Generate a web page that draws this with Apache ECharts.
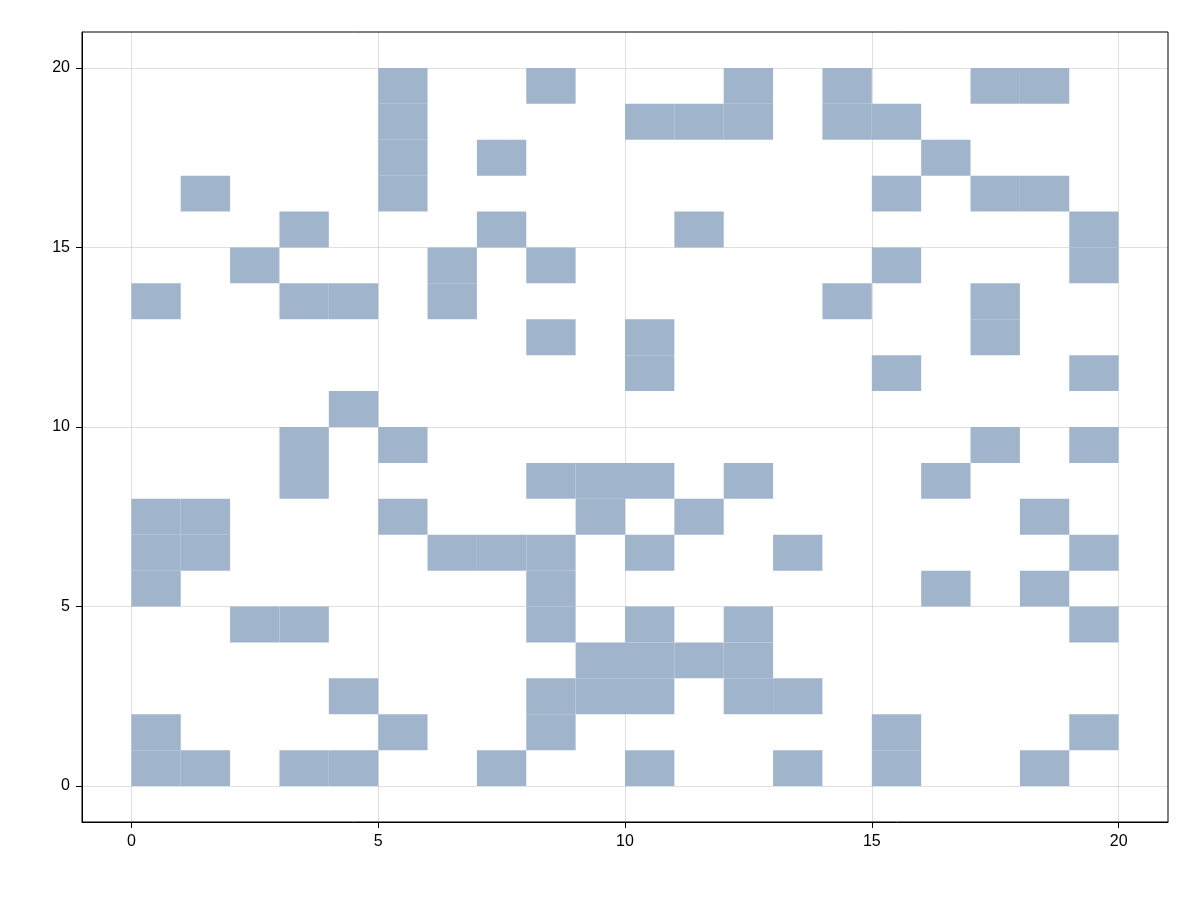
<!DOCTYPE html>
<html><head><meta charset="utf-8">
<script src="https://cdn.jsdelivr.net/npm/echarts@6/dist/echarts.min.js"></script>
<style>html,body{margin:0;padding:0;background:#fff}#c{width:1200px;height:900px}</style>
</head><body><div id="c"></div>
<script>
// filled cells: row index (y bottom edge) -> list of x columns
const rows = [
  [0,1,3,4,7,10,13,15,18],
  [0,5,8,15,19],
  [4,8,9,10,12,13],
  [9,10,11,12],
  [2,3,8,10,12,19],
  [0,8,16,18],
  [0,1,6,7,8,10,13,19],
  [0,1,5,9,11,18],
  [3,8,9,10,12,16],
  [3,5,17,19],
  [4],
  [10,15,19],
  [8,10,17],
  [0,3,4,6,14,17],
  [2,6,8,15,19],
  [3,7,11,19],
  [1,5,15,17,18],
  [5,7,16],
  [5,10,11,12,14,15],
  [5,8,12,14,17,18]
];
const tickValues = [0,5,10,15,20];
const cells = [];
rows.forEach((xs, y) => xs.forEach(x => cells.push([x, y])));

const axisCommon = {
  type:'value', min:-1, max:21,
  axisLine:{show:true, onZero:false, lineStyle:{color:'#000'}},
  axisTick:{show:true, customValues:tickValues, length:6, lineStyle:{color:'#000'}},
  axisLabel:{customValues:tickValues, fontSize:16, color:'#000', fontFamily:'Liberation Sans'},
  splitLine:{show:true, lineStyle:{color:'rgba(0,0,0,0.12)'}}
};
const chart = echarts.init(document.getElementById('c'));
chart.setOption({
  animation:false,
  grid:{left:82, right:32, top:32, bottom:78, show:true, borderColor:'#000', borderWidth:1, backgroundColor:'transparent'},
  xAxis:Object.assign({}, axisCommon, {axisLabel:Object.assign({}, axisCommon.axisLabel, {margin:12})}),
  yAxis:Object.assign({}, axisCommon, {axisLabel:Object.assign({}, axisCommon.axisLabel, {margin:12})}),
  series:[{
    type:'custom', data:cells,
    renderItem:(params, api) => {
      const p0 = api.coord([api.value(0), api.value(1)]);
      const p1 = api.coord([api.value(0)+1, api.value(1)+1]);
      return {type:'rect', shape:{x:p0[0], y:p1[1], width:p1[0]-p0[0], height:p0[1]-p1[1]},
        style:{fill:'rgb(160,181,204)'}};
    },
    encode:{x:0, y:1}
  }]
});
</script></body></html>
